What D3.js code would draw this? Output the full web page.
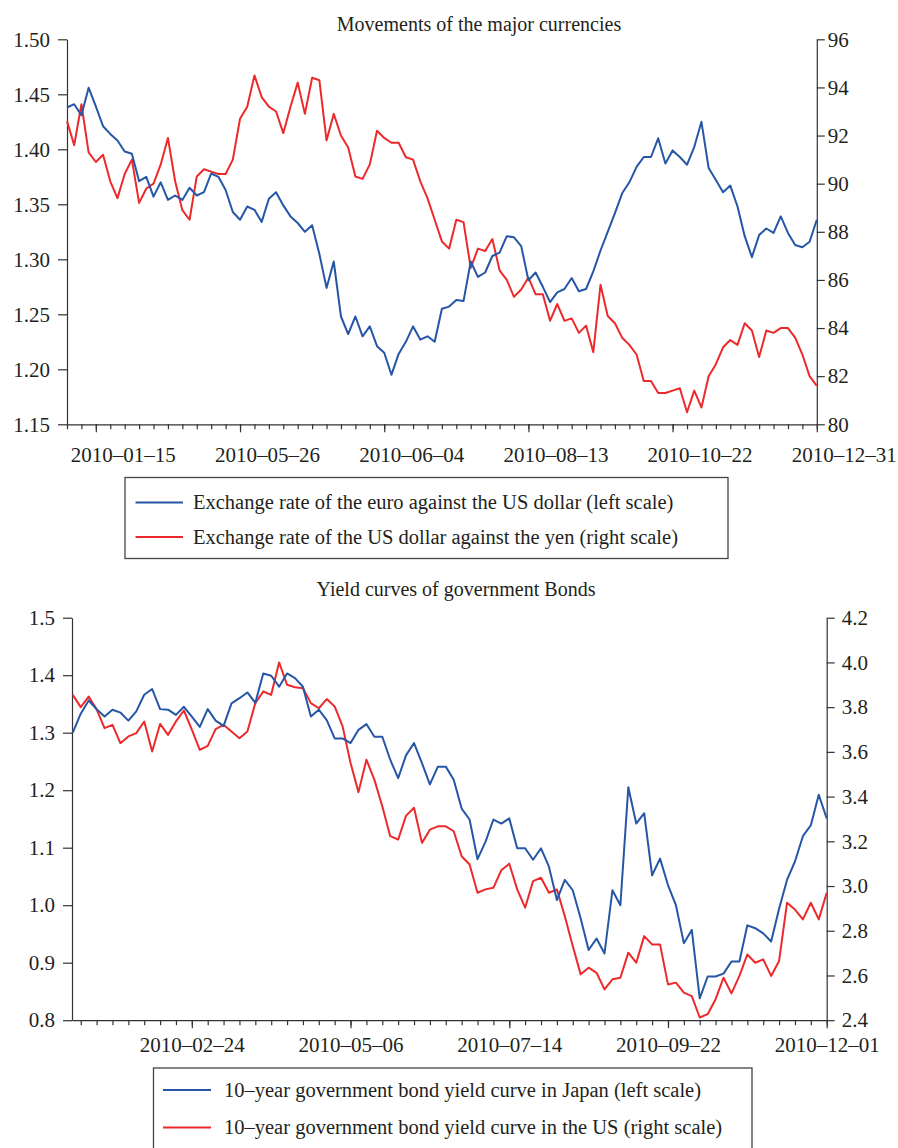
<!DOCTYPE html>
<html>
<head>
<meta charset="utf-8">
<script src="https://cdn.jsdelivr.net/npm/d3@7"></script>
<style>
  body { margin: 0; background: #fff }
  svg text { font-family: "Liberation Serif", "DejaVu Serif", serif; fill: #231f20 }
  .axis path, .axis line { stroke: #333; stroke-width: 1.2 }
  .axis text { font-size: 21px; font-family: "Liberation Serif", "DejaVu Serif", serif }
</style>
</head>
<body>
<script>
// ---- panel 1: currencies, one sample every half week (week 0 = axis origin)
const fxStart = 0
const fxStep = 0.5
const eurUsd = [
  1.438, 1.441, 1.431, 1.456, 1.439, 1.421, 1.414, 1.408, 1.398, 1.396,
  1.371, 1.375, 1.357, 1.370, 1.354, 1.358, 1.354, 1.365, 1.358, 1.361,
  1.378, 1.375, 1.363, 1.343, 1.336, 1.348, 1.345, 1.334, 1.355, 1.361,
  1.349, 1.339, 1.333, 1.325, 1.331, 1.305, 1.274, 1.298, 1.248, 1.232,
  1.248, 1.230, 1.239, 1.221, 1.215, 1.195, 1.214, 1.225, 1.239, 1.227,
  1.230, 1.225, 1.255, 1.257, 1.263, 1.262, 1.298, 1.284, 1.288, 1.303,
  1.306, 1.321, 1.320, 1.312, 1.281, 1.288, 1.275, 1.261, 1.270, 1.273,
  1.283, 1.271, 1.273, 1.289, 1.308, 1.325, 1.342, 1.360, 1.370, 1.384,
  1.393, 1.393, 1.410, 1.387, 1.399, 1.393, 1.386, 1.402, 1.425, 1.383,
  1.372, 1.361, 1.367, 1.348, 1.321, 1.302, 1.322, 1.328, 1.324, 1.339,
  1.324, 1.313, 1.311, 1.316, 1.336
]
const usdJpy = [
  92.6, 91.6, 93.3, 91.3, 90.9, 91.2, 90.1, 89.4, 90.4, 91.0,
  89.2, 89.8, 90.0, 90.8, 91.9, 90.1, 88.9, 88.5, 90.3, 90.6,
  90.5, 90.4, 90.4, 91.0, 92.7, 93.2, 94.5, 93.6, 93.2, 93.0,
  92.1, 93.2, 94.2, 92.9, 94.4, 94.3, 91.8, 92.9, 92.0, 91.5,
  90.3, 90.2, 90.8, 92.2, 91.9, 91.7, 91.7, 91.1, 91.0, 90.1,
  89.4, 88.5, 87.6, 87.3, 88.5, 88.4, 86.5, 87.3, 87.2, 87.7,
  86.4, 86.0, 85.3, 85.6, 86.1, 85.4, 85.4, 84.3, 85.0, 84.3,
  84.4, 83.8, 84.1, 83.0, 85.8, 84.5, 84.2, 83.6, 83.3, 82.9,
  81.8, 81.8, 81.3, 81.3, 81.4, 81.5, 80.5, 81.4, 80.7, 82.0,
  82.5, 83.2, 83.5, 83.3, 84.2, 83.9, 82.8, 83.9, 83.8, 84.0,
  84.0, 83.6, 82.9, 82.0, 81.6
]
const fxMajorWeeks = [2, 12, 22, 32, 42, 52]
const fxMajorLabels = ['2010–01–15', '2010–05–26', '2010–06–04', '2010–08–13', '2010–10–22', '2010–12–31']
const fxLeftTicks = [1.15, 1.20, 1.25, 1.30, 1.35, 1.40, 1.45, 1.50]
const fxRightTicks = [80, 82, 84, 86, 88, 90, 92, 94, 96]
const fxLegend = [
  'Exchange rate of the euro against the US dollar (left scale)',
  'Exchange rate of the US dollar against the yen (right scale)'
]

// ---- panel 2: 10-year bond yields, one sample every half week
const bondStart = -0.5
const bondStep = 0.5
const jgb10y = [
  1.300, 1.333, 1.356, 1.341, 1.328, 1.340, 1.335, 1.321, 1.337, 1.366,
  1.376, 1.341, 1.340, 1.331, 1.345, 1.328, 1.310, 1.341, 1.321, 1.312,
  1.351, 1.360, 1.370, 1.352, 1.403, 1.399, 1.380, 1.403, 1.395, 1.380,
  1.328, 1.340, 1.322, 1.290, 1.290, 1.282, 1.305, 1.315, 1.293, 1.293,
  1.253, 1.221, 1.261, 1.282, 1.247, 1.210, 1.241, 1.241, 1.218, 1.168,
  1.149, 1.080, 1.110, 1.149, 1.142, 1.151, 1.099, 1.099, 1.079, 1.099,
  1.067, 1.009, 1.044, 1.026, 0.977, 0.922, 0.942, 0.916, 1.026, 1.000,
  1.205, 1.142, 1.160, 1.052, 1.081, 1.035, 1.000, 0.934, 0.957, 0.838,
  0.876, 0.876, 0.881, 0.902, 0.902, 0.965, 0.960, 0.951, 0.937, 0.994,
  1.044, 1.076, 1.120, 1.139, 1.192, 1.151
]
const ust10y = [
  3.855, 3.800, 3.847, 3.790, 3.706, 3.721, 3.639, 3.669, 3.684, 3.736,
  3.602, 3.725, 3.676, 3.736, 3.785, 3.699, 3.609, 3.627, 3.702, 3.721,
  3.691, 3.661, 3.691, 3.818, 3.870, 3.855, 4.000, 3.900, 3.889, 3.885,
  3.818, 3.795, 3.836, 3.803, 3.714, 3.550, 3.420, 3.565, 3.476, 3.357,
  3.223, 3.208, 3.315, 3.350, 3.193, 3.252, 3.267, 3.267, 3.245, 3.133,
  3.096, 2.970, 2.985, 2.992, 3.071, 3.100, 2.985, 2.903, 3.022, 3.037,
  2.970, 2.985, 2.865, 2.732, 2.605, 2.635, 2.612, 2.538, 2.583, 2.590,
  2.702, 2.657, 2.776, 2.739, 2.739, 2.560, 2.568, 2.523, 2.508, 2.412,
  2.427, 2.494, 2.590, 2.520, 2.598, 2.694, 2.657, 2.672, 2.598, 2.665,
  2.925, 2.895, 2.851, 2.925, 2.851, 2.970
]
const bondMajorWeeks = [7, 17, 27, 37, 47]
const bondMajorLabels = ['2010–02–24', '2010–05–06', '2010–07–14', '2010–09–22', '2010–12–01']
const bondLeftTicks = [0.8, 0.9, 1.0, 1.1, 1.2, 1.3, 1.4, 1.5]
const bondRightTicks = [2.4, 2.6, 2.8, 3.0, 3.2, 3.4, 3.6, 3.8, 4.0, 4.2]
const bondLegend = [
  '10–year government bond yield curve in Japan (left scale)',
  '10–year government bond yield curve in the US (right scale)'
]

const BLUE = '#2656a6'
const RED = '#ec2a2c'

const svg = d3.select('body').append('svg')
  .attr('width', 898)
  .attr('height', 1148)

function drawPanel (cfg) {
  const x = d3.scaleLinear().domain(cfg.xDomain).range([cfg.left, cfg.right])
  const yLeft = d3.scaleLinear().domain(d3.extent(cfg.leftTicks)).range([cfg.bottom, cfg.top])
  const yRight = d3.scaleLinear().domain(d3.extent(cfg.rightTicks)).range([cfg.bottom, cfg.top])
  const g = svg.append('g')

  g.append('text')
    .attr('x', cfg.titleX)
    .attr('y', cfg.titleY)
    .attr('text-anchor', 'middle')
    .style('font-size', '20px')
    .text(cfg.title)

  // weekly minor ticks
  g.append('g')
    .attr('class', 'axis')
    .attr('transform', `translate(0,${cfg.bottom})`)
    .call(d3.axisBottom(x)
      .tickValues(d3.range(0, cfg.lastWeek + 1))
      .tickSize(5)
      .tickSizeOuter(0)
      .tickFormat(''))

  // labelled major ticks
  g.append('g')
    .attr('class', 'axis')
    .attr('transform', `translate(0,${cfg.bottom})`)
    .call(d3.axisBottom(x)
      .tickValues(cfg.majorWeeks)
      .tickSize(8)
      .tickPadding(cfg.xLabelPad)
      .tickFormat((d, i) => cfg.majorLabels[i]))
    .call(a => a.select('.domain').remove())
    .selectAll('text')
    .attr('dx', cfg.xLabelShift)

  g.append('g')
    .attr('class', 'axis')
    .attr('transform', `translate(${cfg.left},0)`)
    .call(d3.axisLeft(yLeft)
      .tickValues(cfg.leftTicks)
      .tickSize(9)
      .tickSizeOuter(0)
      .tickPadding(cfg.leftPad)
      .tickFormat(d3.format(cfg.leftFormat)))

  g.append('g')
    .attr('class', 'axis')
    .attr('transform', `translate(${cfg.right},0)`)
    .call(d3.axisRight(yRight)
      .tickValues(cfg.rightTicks)
      .tickSize(8)
      .tickSizeOuter(0)
      .tickPadding(cfg.rightPad)
      .tickFormat(d3.format(cfg.rightFormat)))

  const lineLeft = d3.line()
    .x((d, i) => x(cfg.xStart + i * cfg.xStep))
    .y(d => yLeft(d))
  const lineRight = d3.line()
    .x((d, i) => x(cfg.xStart + i * cfg.xStep))
    .y(d => yRight(d))

  g.append('path')
    .datum(cfg.rightSeries)
    .attr('fill', 'none')
    .attr('stroke', RED)
    .attr('stroke-width', 2)
    .attr('stroke-linejoin', 'round')
    .attr('d', lineRight)

  g.append('path')
    .datum(cfg.leftSeries)
    .attr('fill', 'none')
    .attr('stroke', BLUE)
    .attr('stroke-width', 2)
    .attr('stroke-linejoin', 'round')
    .attr('d', lineLeft)

  // legend box
  const lg = cfg.legend
  g.append('rect')
    .attr('x', lg.x)
    .attr('y', lg.y)
    .attr('width', lg.w)
    .attr('height', lg.h)
    .attr('fill', 'none')
    .attr('stroke', '#444')
    .attr('stroke-width', 1.3)

  const items = g.selectAll('g.legend-item')
    .data(cfg.legendLabels.map((label, i) => ({ label, color: i === 0 ? BLUE : RED, y: lg.rows[i] })))
    .join('g')
    .attr('class', 'legend-item')

  items.append('line')
    .attr('x1', lg.lineX1)
    .attr('x2', lg.lineX2)
    .attr('y1', d => d.y)
    .attr('y2', d => d.y)
    .attr('stroke', d => d.color)
    .attr('stroke-width', 2)

  items.append('text')
    .attr('x', lg.textX)
    .attr('y', d => d.y + 6.5)
    .style('font-size', '20.5px')
    .text(d => d.label)
}

drawPanel({
  title: 'Movements of the major currencies',
  titleX: 479,
  titleY: 31,
  left: 67,
  right: 816.8,
  top: 39.3,
  bottom: 424.3,
  xDomain: [0, 52],
  lastWeek: 52,
  xStart: fxStart,
  xStep: fxStep,
  majorWeeks: fxMajorWeeks,
  majorLabels: fxMajorLabels,
  xLabelPad: 14.5,
  xLabelShift: 27,
  leftTicks: fxLeftTicks,
  rightTicks: fxRightTicks,
  leftFormat: '.2f',
  rightFormat: 'd',
  leftPad: 8,
  rightPad: 3,
  leftSeries: eurUsd,
  rightSeries: usdJpy,
  legendLabels: fxLegend,
  legend: { x: 125, y: 477.5, w: 603, h: 81, lineX1: 135.5, lineX2: 183, textX: 193, rows: [502.5, 537] }
})

drawPanel({
  title: 'Yield curves of government Bonds',
  titleX: 456,
  titleY: 596,
  left: 72,
  right: 826.7,
  top: 617.7,
  bottom: 1020.2,
  xDomain: [-0.55, 47],
  lastWeek: 47,
  xStart: bondStart,
  xStep: bondStep,
  majorWeeks: bondMajorWeeks,
  majorLabels: bondMajorLabels,
  xLabelPad: 8.5,
  xLabelShift: 0,
  leftTicks: bondLeftTicks,
  rightTicks: bondRightTicks,
  leftFormat: '.1f',
  rightFormat: '.1f',
  leftPad: 8,
  rightPad: 7,
  leftSeries: jgb10y,
  rightSeries: ust10y,
  legendLabels: bondLegend,
  legend: { x: 153.5, y: 1068, w: 598.5, h: 95, lineX1: 163, lineX2: 211, textX: 224, rows: [1090, 1127.5] }
})
</script>
</body>
</html>
